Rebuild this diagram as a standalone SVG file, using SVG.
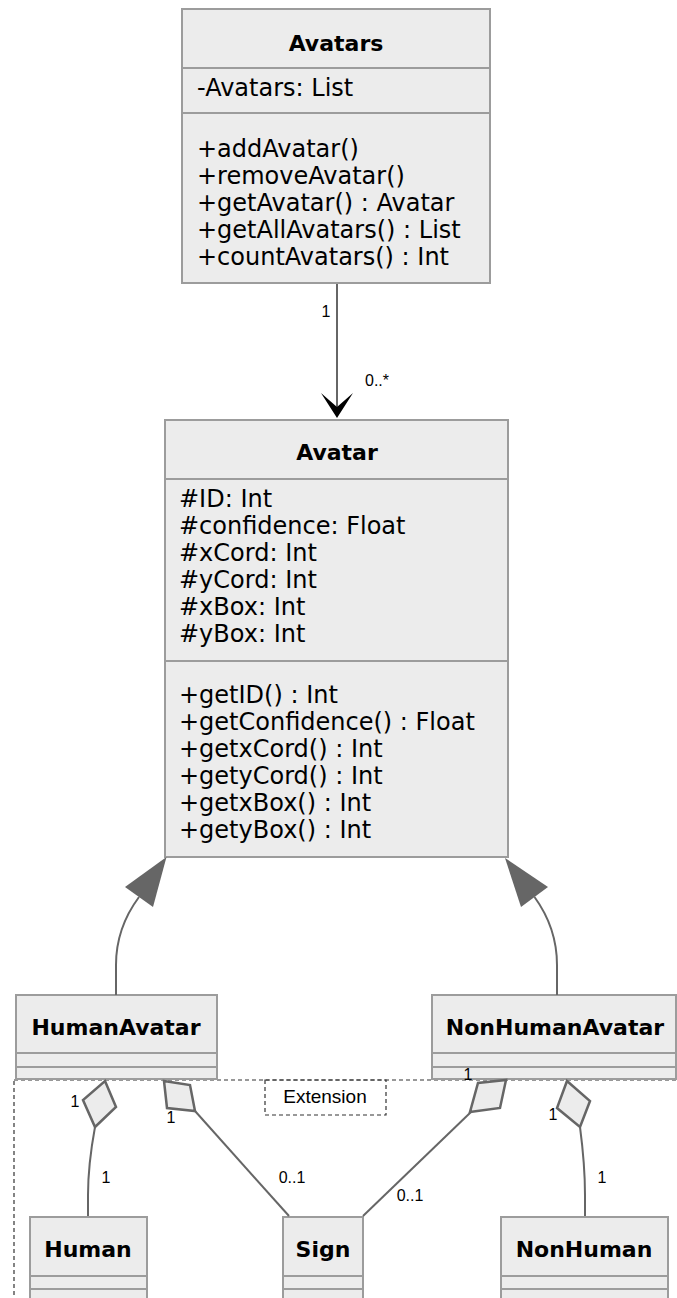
<svg xmlns="http://www.w3.org/2000/svg" width="677" height="1298" viewBox="0 0 677 1298">
<style>
.box{fill:#ececec;stroke:#9c9c9c;stroke-width:2}
.div{stroke:#9c9c9c;stroke-width:2}
.t{font-family:"DejaVu Sans",Verdana,sans-serif;font-size:24px;fill:#000}
.b{font-family:"DejaVu Sans",Verdana,sans-serif;font-size:22px;font-weight:bold;fill:#000;text-anchor:middle}
.lbl{font-family:"Liberation Sans",Arial,sans-serif;font-size:16px;fill:#000;text-anchor:middle}
.edge{fill:none;stroke:#666;stroke-width:2}
.dia{fill:#ececec;stroke:#666;stroke-width:2.5;stroke-linejoin:miter}
.dash{fill:none;stroke:#333;stroke-width:1.2;stroke-dasharray:4,3}
</style>
<g id="extension">
<rect class="dash" x="14" y="1080" width="700" height="300"/>
<rect class="dash" x="265" y="1080" width="121" height="35"/>
<text x="325" y="1103" style="font-family:'Liberation Sans',Arial,sans-serif;font-size:19px;fill:#000;text-anchor:middle">Extension</text>
</g>
<g id="Avatars">
<rect class="box" x="182" y="9" width="308" height="274"/>
<line class="div" x1="182" y1="68" x2="490" y2="68"/>
<line class="div" x1="182" y1="113" x2="490" y2="113"/>
<text class="b" x="336" y="51">Avatars</text>
<text class="t" x="197" y="96">-Avatars: List</text>
<text class="t" x="197" y="157">+addAvatar()</text>
<text class="t" x="197" y="184">+removeAvatar()</text>
<text class="t" x="197" y="211">+getAvatar() : Avatar</text>
<text class="t" x="197" y="238">+getAllAvatars() : List</text>
<text class="t" x="197" y="265">+countAvatars() : Int</text>
</g>
<g id="Avatar">
<rect class="box" x="165" y="420" width="343" height="437"/>
<line class="div" x1="165" y1="479" x2="508" y2="479"/>
<line class="div" x1="165" y1="661" x2="508" y2="661"/>
<text class="b" x="337" y="460">Avatar</text>
<text class="t" x="179" y="507">#ID: Int</text>
<text class="t" x="179" y="534">#confidence: Float</text>
<text class="t" x="179" y="561">#xCord: Int</text>
<text class="t" x="179" y="588">#yCord: Int</text>
<text class="t" x="179" y="615">#xBox: Int</text>
<text class="t" x="179" y="642">#yBox: Int</text>
<text class="t" x="179" y="703">+getID() : Int</text>
<text class="t" x="179" y="730">+getConfidence() : Float</text>
<text class="t" x="179" y="757">+getxCord() : Int</text>
<text class="t" x="179" y="784">+getyCord() : Int</text>
<text class="t" x="179" y="811">+getxBox() : Int</text>
<text class="t" x="179" y="838">+getyBox() : Int</text>
</g>
<g id="HumanAvatar">
<rect class="box" x="16" y="995" width="201" height="84"/>
<line class="div" x1="16" y1="1053" x2="217" y2="1053"/>
<line class="div" x1="16" y1="1067" x2="217" y2="1067"/>
<text class="b" x="116" y="1035">HumanAvatar</text>
</g>
<g id="NonHumanAvatar">
<rect class="box" x="432" y="995" width="244" height="84"/>
<line class="div" x1="432" y1="1053" x2="676" y2="1053"/>
<line class="div" x1="432" y1="1067" x2="676" y2="1067"/>
<text class="b" x="555" y="1035">NonHumanAvatar</text>
</g>
<g id="Human">
<rect class="box" x="30" y="1217" width="117" height="100"/>
<line class="div" x1="30" y1="1276" x2="147" y2="1276"/>
<line class="div" x1="30" y1="1289" x2="147" y2="1289"/>
<text class="b" x="88" y="1257">Human</text>
</g>
<g id="Sign">
<rect class="box" x="283" y="1217" width="80" height="100"/>
<line class="div" x1="283" y1="1276" x2="363" y2="1276"/>
<line class="div" x1="283" y1="1289" x2="363" y2="1289"/>
<text class="b" x="323" y="1257">Sign</text>
</g>
<g id="NonHuman">
<rect class="box" x="501" y="1217" width="167" height="100"/>
<line class="div" x1="501" y1="1276" x2="668" y2="1276"/>
<line class="div" x1="501" y1="1289" x2="668" y2="1289"/>
<text class="b" x="584" y="1257">NonHuman</text>
</g>
<g id="connectors">
<line class="edge" x1="337" y1="284" x2="337" y2="412"/>
<path d="M321,393 L337,418 L353,393 L337,407 Z" fill="#000"/>
<path class="edge" d="M116,995 L116,965 Q116,928 139,897"/>
<polygon points="166.5,857 125,887 153,907" fill="#666"/>
<path class="edge" d="M557,995 L557,965 Q557,928 534.5,897"/>
<polygon points="505,858 548,887 521,907" fill="#666"/>
<path class="edge" d="M95,1127 Q88,1165 88,1195 L88,1216"/>
<polygon class="dia" points="105,1081 116,1107 95,1127 83,1100"/>
<line class="edge" x1="195" y1="1111" x2="289" y2="1216"/>
<polygon class="dia" points="164,1081 190,1085 195,1111 167,1108"/>
<line class="edge" x1="471" y1="1112" x2="363" y2="1216"/>
<polygon class="dia" points="506,1080 500,1108 470,1112 478,1083"/>
<path class="edge" d="M580,1127 Q585,1165 585,1195 L585,1216"/>
<polygon class="dia" points="567,1081 590,1101 580,1127 557,1108"/>
<text class="lbl" x="326" y="317">1</text>
<text class="lbl" x="377" y="386">0..*</text>
<text class="lbl" x="75" y="1107">1</text>
<text class="lbl" x="106" y="1183">1</text>
<text class="lbl" x="171" y="1123">1</text>
<text class="lbl" x="292" y="1183">0..1</text>
<text class="lbl" x="410" y="1201">0..1</text>
<text class="lbl" x="468" y="1080">1</text>
<text class="lbl" x="553" y="1120">1</text>
<text class="lbl" x="602" y="1183">1</text>
</g>
</svg>
